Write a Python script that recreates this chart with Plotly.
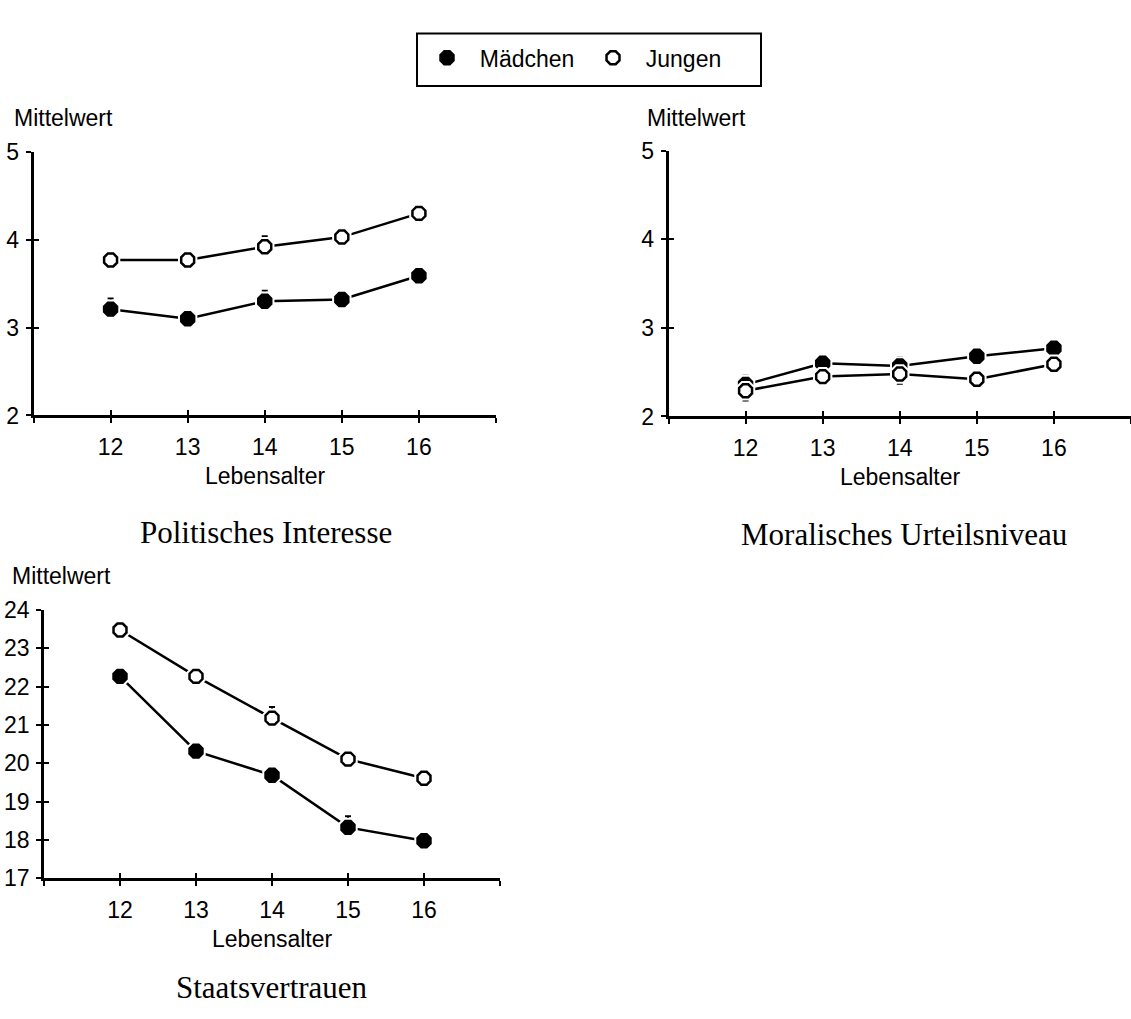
import plotly.graph_objects as go

W, H = 1131, 1019

# ---- data -------------------------------------------------------------
ages = [12, 13, 14, 15, 16]
age_tickvals = [11, 12, 13, 14, 15, 16, 17]
age_ticktext = ["", "12", "13", "14", "15", "16", ""]

# Politisches Interesse (Mittelwert)
pol_maedchen = [3.21, 3.10, 3.30, 3.32, 3.59]
pol_jungen = [3.77, 3.77, 3.92, 4.03, 4.30]
pol_maedchen_se_up = [0.12, 0.05, 0.12, 0.05, 0.05]
pol_maedchen_se_down = [0.05, 0.05, 0.05, 0.05, 0.05]
pol_jungen_se_up = [0.05, 0.05, 0.12, 0.05, 0.05]
pol_jungen_se_down = [0.05, 0.05, 0.05, 0.05, 0.05]
pol_yticks = [2, 3, 4, 5]

# Moralisches Urteilsniveau (Mittelwert)
mor_maedchen = [2.36, 2.60, 2.57, 2.68, 2.77]
mor_jungen = [2.29, 2.45, 2.48, 2.42, 2.59]
mor_maedchen_se_up = [0.10, 0.05, 0.10, 0.05, 0.05]
mor_maedchen_se_down = [0.05, 0.05, 0.05, 0.05, 0.05]
mor_jungen_se_up = [0.05, 0.05, 0.05, 0.05, 0.05]
mor_jungen_se_down = [0.11, 0.05, 0.11, 0.05, 0.05]
mor_yticks = [2, 3, 4, 5]

# Staatsvertrauen (Mittelwert)
sta_maedchen = [22.27, 20.32, 19.69, 18.33, 17.98]
sta_jungen = [23.48, 22.27, 21.18, 20.11, 19.61]
sta_maedchen_se_up = [0.15, 0.15, 0.15, 0.29, 0.15]
sta_maedchen_se_down = [0.15, 0.15, 0.15, 0.15, 0.15]
sta_jungen_se_up = [0.15, 0.15, 0.29, 0.15, 0.15]
sta_jungen_se_down = [0.15, 0.15, 0.15, 0.15, 0.15]
sta_yticks = [17, 18, 19, 20, 21, 22, 23, 24]

panels = [
    dict(title="Politisches Interesse", m=pol_maedchen, j=pol_jungen,
         m_up=pol_maedchen_se_up, m_dn=pol_maedchen_se_down,
         j_up=pol_jungen_se_up, j_dn=pol_jungen_se_down,
         yticks=pol_yticks,
         box=(33.5, 496, 142.5, 413), title_xy=(266, 533),
         xlab_xy=(265, 475), ylab_xy=(12, 108)),
    dict(title="Moralisches Urteilsniveau", m=mor_maedchen, j=mor_jungen,
         m_up=mor_maedchen_se_up, m_dn=mor_maedchen_se_down,
         j_up=mor_jungen_se_up, j_dn=mor_jungen_se_down,
         yticks=mor_yticks,
         box=(668.5, 1131, 141.5, 414), title_xy=(904, 535),
         xlab_xy=(900, 476), ylab_xy=(645, 108)),
    dict(title="Staatsvertrauen", m=sta_maedchen, j=sta_jungen,
         m_up=sta_maedchen_se_up, m_dn=sta_maedchen_se_down,
         j_up=sta_jungen_se_up, j_dn=sta_jungen_se_down,
         yticks=sta_yticks,
         box=(44, 500, 612.7, 888), title_xy=(272, 1000),
         xlab_xy=(272, 950), ylab_xy=(10, 578)),
]

SANS = "Liberation Sans, Arial, sans-serif"
SERIF = "Liberation Serif, Times New Roman, serif"
FS = 23
NBSP = "\u00a0"


def fx(p):
    return p / W


def fy(p):
    return 1 - p / H


fig = go.Figure()
layout = dict(
    width=W, height=H,
    margin=dict(l=0, r=0, t=0, b=0),
    paper_bgcolor="white", plot_bgcolor="white",
    font=dict(family=SANS, size=FS, color="black"),
    showlegend=True,
)
annotations = []

for i, p in enumerate(panels, start=1):
    xa = "x" if i == 1 else f"x{i}"
    ya = "y" if i == 1 else f"y{i}"
    xa_t, ya_t = f"x{i + 3}", f"y{i + 3}"
    x0, x1, y0, y1 = p["box"]
    ymin, ymax = p["yticks"][0], p["yticks"][-1]

    common_x = dict(range=[11, 17], tickvals=age_tickvals, showgrid=False,
                    zeroline=False, tickwidth=2, tickcolor="black", ticklen=5)
    common_y = dict(range=[ymin, ymax], tickvals=p["yticks"], showgrid=False,
                    zeroline=False, tickwidth=2, tickcolor="black", ticklen=5)

    layout["xaxis" if i == 1 else f"xaxis{i}"] = dict(
        common_x, domain=[fx(x0), fx(x1)], anchor=ya,
        ticktext=age_ticktext, ticks="outside", showline=True,
        linecolor="black", linewidth=2.5,
        tickfont=dict(size=FS), ticklabelstandoff=4)
    layout["yaxis" if i == 1 else f"yaxis{i}"] = dict(
        common_y, domain=[fy(y1), fy(y0)], anchor=xa,
        ticks="outside", showline=True, linecolor="black", linewidth=2.5,
        tickfont=dict(size=FS), ticklabelstandoff=2)
    # twin axes carry the inner half of the crossing tick marks
    layout[f"xaxis{i + 3}"] = dict(
        common_x, overlaying=xa, anchor=ya_t, ticks="inside",
        showticklabels=False, showline=False)
    layout[f"yaxis{i + 3}"] = dict(
        common_y, overlaying=ya, anchor=xa_t, ticks="inside",
        showticklabels=False, showline=False)
    fig.add_trace(go.Scatter(x=[], y=[], xaxis=xa_t, yaxis=ya_t,
                             showlegend=False, hoverinfo="skip"))

    series = [
        ("Mädchen", p["m"], p["m_up"], p["m_dn"], "black"),
        ("Jungen", p["j"], p["j_up"], p["j_dn"], "white"),
    ]
    for name, vals, up, dn, fill in series:
        # connecting line with white halo markers (gap around each point)
        fig.add_trace(go.Scatter(
            x=ages, y=vals, xaxis=xa, yaxis=ya, mode="lines+markers",
            line=dict(color="black", width=2.5),
            marker=dict(symbol="octagon", size=21, color="white",
                        line=dict(width=0)),
            error_y=dict(type="data", symmetric=False, array=up,
                         arrayminus=dn, color="black", thickness=2,
                         width=3),
            showlegend=False, hoverinfo="skip"))
        fig.add_trace(go.Scatter(
            x=ages, y=vals, xaxis=xa, yaxis=ya, mode="markers",
            name=NBSP * 2 + name, legendgroup=name, showlegend=(i == 1),
            marker=dict(symbol="octagon", size=14, color=fill,
                        line=dict(color="black", width=2.5))))

    annotations.append(dict(
        text=p["title"], x=fx(p["title_xy"][0]), y=fy(p["title_xy"][1]),
        xref="paper", yref="paper", xanchor="center", yanchor="middle",
        showarrow=False, font=dict(family=SERIF, size=31)))
    annotations.append(dict(
        text="Lebensalter", x=fx(p["xlab_xy"][0]), y=fy(p["xlab_xy"][1]),
        xref="paper", yref="paper", xanchor="center", yanchor="middle",
        showarrow=False, font=dict(family=SANS, size=FS)))
    annotations.append(dict(
        text="Mittelwert", x=fx(p["ylab_xy"][0]), y=fy(p["ylab_xy"][1]),
        xref="paper", yref="paper", xanchor="left", yanchor="middle",
        showarrow=False, font=dict(family=SANS, size=FS)))

layout["annotations"] = annotations
layout["legend"] = dict(
    orientation="h", x=fx(427), y=fy(46), xanchor="left",
    yanchor="middle", bgcolor="rgba(0,0,0,0)", borderwidth=0,
    font=dict(family=SANS, size=FS), itemwidth=30, entrywidth=121)
layout["shapes"] = [dict(
    type="rect", xref="paper", yref="paper",
    x0=fx(417), x1=fx(761), y0=fy(75), y1=fy(21),
    line=dict(color="black", width=2), fillcolor="rgba(0,0,0,0)")]

fig.update_layout(**layout)
fig.write_html("out.html")
